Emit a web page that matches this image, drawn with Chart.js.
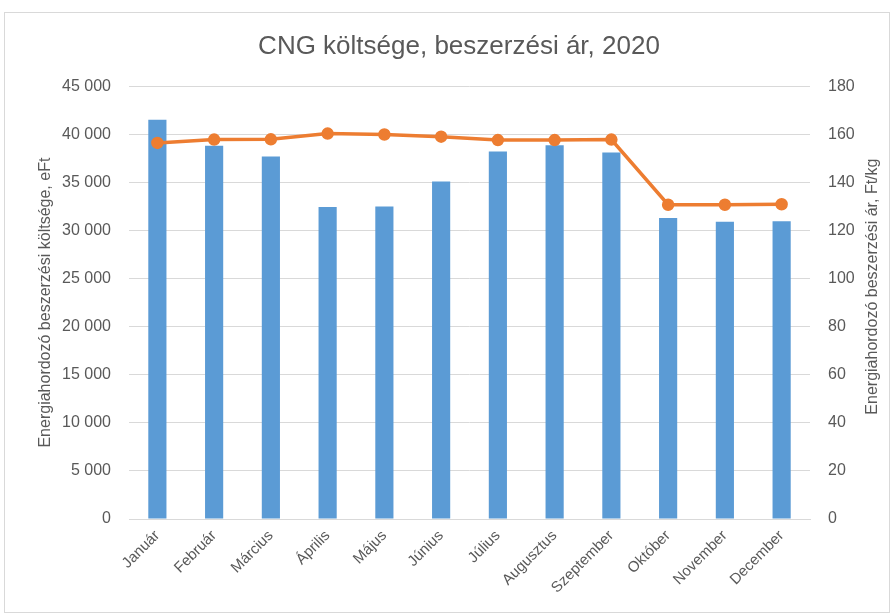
<!DOCTYPE html>
<html>
<head>
<meta charset="utf-8">
<script src="https://cdn.jsdelivr.net/npm/chart.js@4"></script>
<style>
  html, body { margin: 0; padding: 0; background: #fff; }
  #wrap { width: 894px; height: 616px; position: relative; }
</style>
</head>
<body>
<div id="wrap"><canvas id="chart" width="894" height="616"></canvas></div>
<script>
// data
const months = ['Január', 'Február', 'Március', 'Április', 'Május', 'Június',
    'Július', 'Augusztus', 'Szeptember', 'Október', 'November', 'December'];
const costValues = [41500, 38800, 37700, 32450, 32500, 35100, 38200, 38850, 38100, 31300, 30900, 30950];
const priceValues = [156.4, 157.8, 157.9, 160.3, 159.9, 159.0, 157.6, 157.6, 157.8, 130.7, 130.7, 130.9];
const leftTicks = [0, 5000, 10000, 15000, 20000, 25000, 30000, 35000, 40000, 45000];
const rightTicks = [0, 20, 40, 60, 80, 100, 120, 140, 160, 180];
const rightTitle = 'Energiahordozó beszerzési ár, Ft/kg';

const textColor = '#595959';
const fontFamily = "'Liberation Sans', Arial, sans-serif";

function formatThousands(v) {
    return String(v).replace(/\B(?=(\d{3})+(?!\d))/g, ' ');
}

// thin grey frame like the spreadsheet chart area
const framePlugin = {
    id: 'frame',
    beforeDraw(chart) {
        const ctx = chart.ctx;
        ctx.save();
        ctx.fillStyle = '#fff';
        ctx.fillRect(0, 0, chart.width, chart.height);
        ctx.strokeStyle = '#d9d9d9';
        ctx.lineWidth = 1;
        ctx.strokeRect(4.5, 12.5, 885, 600);
        ctx.restore();
    }
};

// secondary axis title reads bottom-to-top, like the primary one
const rightTitlePlugin = {
    id: 'rightTitle',
    afterDraw(chart) {
        const ctx = chart.ctx;
        const area = chart.chartArea;
        ctx.save();
        ctx.translate(873, (area.top + area.bottom) / 2 - 16);
        ctx.rotate(-Math.PI / 2);
        ctx.fillStyle = textColor;
        ctx.font = '16px ' + fontFamily;
        ctx.textAlign = 'center';
        ctx.textBaseline = 'middle';
        ctx.fillText(rightTitle, 0, 0);
        ctx.restore();
    }
};

const ctx = document.getElementById('chart').getContext('2d');
new Chart(ctx, {
    data: {
        labels: months,
        datasets: [
            {
                type: 'line',
                label: 'Beszerzési ár',
                data: priceValues,
                yAxisID: 'y1',
                borderColor: '#ED7D31',
                backgroundColor: '#ED7D31',
                borderWidth: 3.5,
                pointRadius: 4.5,
                pointHoverRadius: 4.5,
                tension: 0,
                order: 0
            },
            {
                type: 'bar',
                label: 'Költség',
                data: costValues,
                yAxisID: 'y',
                backgroundColor: '#5B9BD5',
                categoryPercentage: 1,
                barPercentage: 0.32,
                order: 1
            }
        ]
    },
    options: {
        responsive: false,
        animation: false,
        layout: { padding: { left: 32, right: 8, top: 14, bottom: 0 } },
        plugins: {
            legend: { display: false },
            tooltip: { enabled: false },
            title: {
                display: true,
                text: 'CNG költsége, beszerzési ár, 2020',
                color: textColor,
                font: { family: fontFamily, size: 26, weight: 'normal' },
                padding: { top: 17, bottom: 24 }
            }
        },
        scales: {
            x: {
                grid: { display: false, drawTicks: false },
                border: { display: true, color: '#d9d9d9' },
                ticks: {
                    color: textColor,
                    font: { family: fontFamily, size: 15 },
                    maxRotation: 45,
                    minRotation: 45,
                    padding: 8,
                    autoSkip: false
                },
                afterFit(scale) { scale.height = 97; }
            },
            y: {
                position: 'left',
                min: 0,
                max: 45000,
                afterBuildTicks(scale) { scale.ticks = leftTicks.map(v => ({ value: v })); },
                grid: { color: '#d9d9d9', drawTicks: false },
                border: { display: false },
                ticks: {
                    color: textColor,
                    font: { family: fontFamily, size: 16 },
                    padding: 18,
                    callback: v => formatThousands(v)
                },
                title: {
                    display: true,
                    text: 'Energiahordozó beszerzési költsége, eFt',
                    color: textColor,
                    font: { family: fontFamily, size: 16 },
                    padding: 4
                },
                afterFit(scale) { scale.width = 97; }
            },
            y1: {
                position: 'right',
                min: 0,
                max: 180,
                afterBuildTicks(scale) { scale.ticks = rightTicks.map(v => ({ value: v })); },
                grid: { display: false, drawTicks: false },
                border: { display: false },
                ticks: {
                    color: textColor,
                    font: { family: fontFamily, size: 16 },
                    padding: 18
                },
                afterFit(scale) { scale.width = 76; }
            }
        }
    },
    plugins: [framePlugin, rightTitlePlugin]
});
</script>
</body>
</html>
